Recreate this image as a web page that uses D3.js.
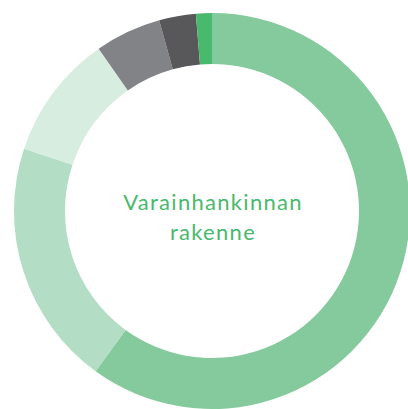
<!DOCTYPE html>
<html>
<head>
<meta charset="utf-8">
<script src="https://cdn.jsdelivr.net/npm/d3@7"></script>
<style>
  body { margin: 0; background: #fff; }
  svg { display: block; }
</style>
</head>
<body>
<div id="chart"></div>
<script>
var width = 408, height = 409;

// share of each funding source, percent (clockwise from top)
var categories = ['a', 'b', 'c', 'd', 'e', 'f'];
var values = [60.0, 20.1, 10.2, 5.4, 3.0, 1.3];
var colors = ['#84ca9c', '#b3ddc4', '#d6ede0', '#828386', '#58585b', '#48b96d'];
var title = ['Varainhankinnan', 'rakenne'];

var cx = 212, cy = 211, outer = 198, inner = 147;

var svg = d3.select('#chart').append('svg')
  .attr('width', width)
  .attr('height', height);

var g = svg.append('g')
  .attr('transform', 'translate(' + cx + ',' + cy + ')');

var pie = d3.pie().sort(null).value(function (d, i) { return values[i]; });
var arc = d3.arc().innerRadius(inner).outerRadius(outer);

g.selectAll('path')
  .data(pie(categories))
  .enter().append('path')
  .attr('d', arc)
  .attr('fill', function (d, i) { return colors[i]; });

g.selectAll('text')
  .data(title)
  .enter().append('text')
  .attr('text-anchor', 'middle')
  .attr('x', 1)
  .attr('y', function (d, i) { return -1 + i * 30; })
  .attr('fill', '#48b96d')
  .style('font-family', 'Lato, sans-serif')
  .style('font-size', '22px')
  .style('letter-spacing', '1.3px')
  .text(function (d) { return d; });
</script>
</body>
</html>
